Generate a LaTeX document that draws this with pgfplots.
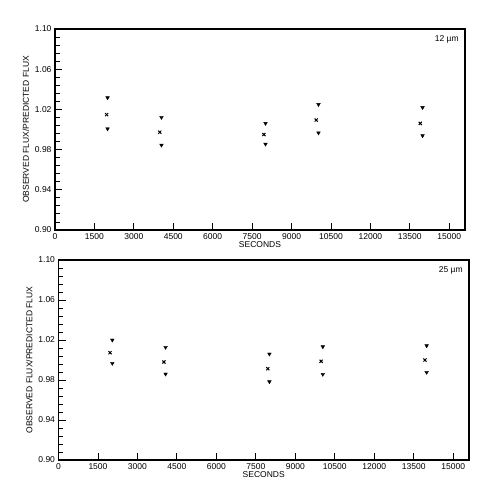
\documentclass[border=0pt]{standalone}
\usepackage{fontspec}
\setmainfont{Liberation Sans}
\usepackage{pgfplots}
\pgfplotsset{compat=1.18}
\pgfplotsset{
 panel/.style={
  scale only axis, width=410pt, height=200pt,
  xmin=0, xmax=15600, ymin=0.90, ymax=1.10,
  xtick={0,1500,3000,4500,6000,7500,9000,10500,12000,13500,15000},
  scaled x ticks=false, scaled y ticks=false,
  ytick={0.90,0.94,0.98,1.02,1.06,1.10},
  minor y tick num=4,
  tick align=inside,
  xtick pos=left, ytick pos=left,
  major tick length=7pt, minor tick length=4.5pt,
  tick style={black, line width=0.9pt},
  axis line style={line width=1.1pt},
  font=\fontsize{8.5}{10}\selectfont,
  /pgf/number format/assume math mode=true,
  x tick label style={/pgf/number format/.cd, fixed, 1000 sep={}},
  y tick label style={/pgf/number format/.cd, fixed, fixed zerofill, precision=2},
  xlabel={SECONDS}, ylabel={OBSERVED FLUX/PREDICTED FLUX},
  xlabel style={yshift=5pt},
  ylabel style={yshift=-1pt},
  clip=false,
 },
 tri/.style={only marks, mark=triangle*, mark size=2.1pt, mark options={rotate=180, fill=black, draw=black}},
 crs/.style={only marks, mark=x, mark size=2.2pt, mark options={line width=1pt, draw=black}},
}
\begin{document}
\begin{tikzpicture}
\useasboundingbox (0pt,0pt) rectangle (500pt,-495pt);
\begin{axis}[panel, at={(55pt,-230pt)}, anchor=south west, height=201pt]
\addplot[tri] coordinates {(2000,1.0316) (4050,1.0121) (8010,1.0061) (10025,1.0249) (13985,1.0219)};
\addplot[crs] coordinates {(1963,1.0148) (3987,0.9973) (7948,0.9950) (9938,1.0094) (13900,1.0061)};
\addplot[tri] coordinates {(2000,1.0007) (4050,0.9845) (8010,0.9855) (10025,0.9967) (13985,0.9939)};
\node[anchor=north east, font=\fontsize{8.5}{10}\selectfont] at (rel axis cs:0.993,0.985) {12 µm};
\end{axis}
\begin{axis}[panel, at={(58.5pt,-460pt)}, anchor=south west, width=410.5pt]
\addplot[tri] coordinates {(2045,1.0200) (4070,1.0127) (8015,1.0060) (10045,1.0133) (13990,1.0143)};
\addplot[crs] coordinates {(1958,1.0073) (4006,0.9980) (7954,0.9913) (9981,0.9987) (13926,1.0000)};
\addplot[tri] coordinates {(2045,0.9967) (4070,0.9860) (8015,0.9783) (10045,0.9857) (13990,0.9877)};
\node[anchor=north east, font=\fontsize{8.5}{10}\selectfont] at (rel axis cs:0.993,0.985) {25 µm};
\end{axis}
\end{tikzpicture}
\end{document}
